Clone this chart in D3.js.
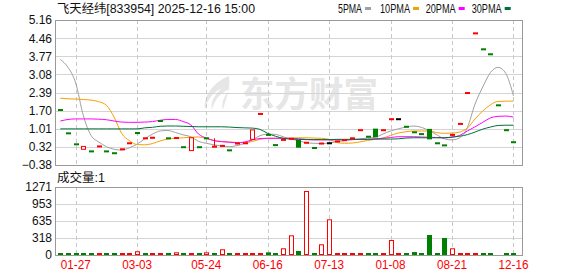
<!DOCTYPE html>
<html><head><meta charset="utf-8">
<script src="https://cdn.jsdelivr.net/npm/d3@7"></script>
<style>body{margin:0;background:#fff}svg{display:block}</style>
</head><body>
<svg id="c" width="578" height="276"></svg>
<script>
// ---------------- data ----------------
const stockTitle = "飞天经纬[833954] 2025-12-16 15:00";
const volTitle = "成交量:1";
const prevClose = 1.90;
const opens  = [1.73,0.84,0.42,0.22,0.15,0.32,0.15,0.08,0.21,0.44,0.88,0.63,0.65,1.31,0.65,0.64,0.31,0.17,0.31,0.65,
                0.31,0.34,0.19,0.43,0.44,0.60,1.56,0.78,0.39,0.57,0.61,0.58,0.46,0.28,0.43,0.45,0.51,0.56,0.63,0.94,
                0.71,1.01,0.94,1.36,1.37,1.09,0.88,0.81,1.00,0.46,0.38,0.76,1.18,2.36,4.64,4.05,3.86,1.91,0.96,0.50];
const closes = [1.72,0.83,0.41,0.33,0.14,0.33,0.14,0.07,0.22,0.45,0.80,0.64,0.66,1.30,0.64,0.65,0.30,0.66,0.30,0.64,
                0.32,0.35,0.18,0.44,0.45,0.96,1.57,0.77,0.38,0.58,0.62,0.28,0.47,0.27,0.44,0.45,0.52,0.57,0.64,0.95,
                0.70,0.68,0.95,1.37,1.37,1.08,0.87,0.80,0.60,0.45,0.37,0.77,1.19,2.37,4.65,4.04,3.85,1.90,0.95,0.49];
const highs  = [1.73,0.84,0.42,0.33,0.15,0.33,0.15,0.08,0.22,0.45,0.88,0.64,0.66,1.31,0.65,0.65,0.31,0.66,0.31,0.65,
                0.64,0.35,0.19,0.44,0.45,0.96,1.57,0.78,0.39,0.58,0.62,0.58,0.47,0.28,0.44,0.45,0.52,0.57,0.64,0.95,
                0.71,1.01,0.95,1.37,1.37,1.09,0.88,0.81,1.00,0.46,0.38,0.77,1.19,2.37,4.65,4.05,3.86,1.91,0.96,0.50];
const lows   = [1.72,0.83,0.41,0.22,0.14,0.32,0.14,0.07,0.21,0.44,0.80,0.63,0.65,1.30,0.64,0.64,0.30,0.17,0.30,0.64,
                0.31,0.34,0.18,0.43,0.44,0.60,1.56,0.77,0.38,0.57,0.61,0.28,0.46,0.27,0.43,0.45,0.51,0.56,0.63,0.94,
                0.70,0.68,0.94,1.36,1.37,1.08,0.87,0.80,0.60,0.45,0.37,0.76,1.18,2.36,4.64,4.04,3.85,1.90,0.95,0.49];
const volumes = [30,30,30,30,30,30,30,30,30,30,70,37,30,30,30,50,30,30,30,50,
                 30,107,30,30,30,30,30,50,30,125,368,75,1196,30,200,667,30,30,30,30,
                 30,30,30,280,30,30,55,30,374,30,318,125,30,30,30,37,30,0,30,30];
const ma5  = [3.65,3.35,2.75,1.50,0.75,0.50,0.32,0.22,0.19,0.28,0.42,0.62,0.80,0.92,0.94,0.86,0.77,0.70,0.52,0.45,
              0.39,0.35,0.32,0.36,0.45,0.58,0.74,0.80,0.79,0.70,0.61,0.55,0.47,0.45,0.44,0.46,0.51,0.55,0.59,0.62,
              0.65,0.68,0.80,0.92,1.00,1.07,1.11,1.06,0.94,0.78,0.62,0.58,0.66,1.05,1.95,2.60,3.15,3.35,3.12,2.26];
const ma10 = [2.17,2.15,2.14,2.12,2.10,2.04,1.90,1.45,0.82,0.55,0.40,0.39,0.44,0.54,0.61,0.64,0.66,0.68,0.69,0.64,
              0.56,0.52,0.50,0.48,0.47,0.52,0.60,0.64,0.64,0.64,0.65,0.66,0.66,0.65,0.64,0.60,0.48,0.45,0.46,0.50,
              0.56,0.60,0.65,0.75,0.84,0.89,0.92,0.92,0.92,0.86,0.83,0.84,0.88,1.03,1.38,1.68,1.92,2.05,2.06,2.06];
const ma20 = [1.30,1.36,1.38,1.38,1.38,1.37,1.35,1.30,1.26,1.25,1.25,1.26,1.28,1.33,1.36,1.36,1.28,1.15,0.80,0.65,
              0.55,0.51,0.49,0.47,0.50,0.58,0.63,0.64,0.64,0.64,0.64,0.62,0.60,0.58,0.58,0.58,0.58,0.58,0.59,0.60,
              0.60,0.62,0.64,0.67,0.70,0.70,0.70,0.69,0.68,0.67,0.66,0.68,0.75,0.92,1.08,1.25,1.42,1.48,1.49,1.45];
const ma30 = [1.00,1.00,1.00,1.00,1.00,1.00,1.00,1.00,1.00,1.00,1.00,1.04,1.06,1.10,1.11,1.11,1.10,1.09,1.08,1.08,
              1.08,1.08,1.07,1.05,1.04,1.03,0.98,0.83,0.72,0.64,0.61,0.60,0.59,0.59,0.59,0.59,0.60,0.60,0.60,0.60,
              0.60,0.61,0.61,0.61,0.62,0.65,0.66,0.66,0.66,0.66,0.66,0.69,0.72,0.78,0.88,0.99,1.07,1.13,1.14,1.14];
const priceTicks = [5.16,4.46,3.77,3.08,2.39,1.70,1.01,0.32,-0.38];
const volTicks = [1271,953,635,318,0];
const dateTickIdx = [2,10,19,27,35,43,51,59];
const dateTickLabels = ["01-27","03-03","05-24","06-16","07-13","01-08","08-21","12-16"];
const maNames = ["5PMA","10PMA","20PMA","30PMA"];
const maColors = ["#a0a0a0","#f5a000","#ff00ff","#00703a"];

// ---------------- layout ----------------
const svg = d3.select("#c");
const L = 55, R = 522, T1 = 20, B1 = 165, T2 = 187, B2 = 255;
const RED = "#ff0000", GREEN = "#008000", BLACK = "#000000";
const n = closes.length;
const x = d3.scaleBand().domain(d3.range(n)).range([56.5, 517.3]);
const cx = i => x(i) + x.bandwidth() / 2;
const y = d3.scaleLinear().domain([priceTicks[priceTicks.length-1], priceTicks[0]]).range([B1, T1]);
const yv = d3.scaleLinear().domain([0, volTicks[0]]).range([B2, T2]);
const txtLen = s => { let w = 0; for (const ch of s) w += ch.charCodeAt(0) > 255 ? 12 : 6; return w; };
const monoFont = "'Liberation Sans', Arial, sans-serif";
const cjkFont = "'Liberation Sans', 'Noto Sans CJK SC', sans-serif";

// watermark
const wm = svg.append("g").attr("fill", "#e6e6e6");
wm.append("path").attr("d",
  "M229,76 C214,82 203,95 205,110 C207,100 213,92 222,88 C214,95 210,103 212,110 C214,100 221,92 230,89 C224,96 221,103 223,110 C226,98 231,88 229,76 Z");
wm.append("text").attr("x", 240).attr("y", 107).attr("font-size", 35).attr("font-weight", "bold")
  .attr("font-family", "'Noto Sans CJK SC', sans-serif").attr("textLength", 138).attr("lengthAdjust", "spacingAndGlyphs").text("东方财富");

// grids
const grid = svg.append("g");
grid.selectAll(".hg").data(priceTicks.slice(1, -1)).join("line")
  .attr("x1", L).attr("x2", R).attr("y1", d => Math.round(y(d)) + 0.5).attr("y2", d => Math.round(y(d)) + 0.5)
  .attr("stroke", "#d4d4d4");
grid.selectAll(".hv").data(volTicks.slice(1, -1)).join("line")
  .attr("x1", L).attr("x2", R).attr("y1", d => Math.round(yv(d)) + 0.5).attr("y2", d => Math.round(yv(d)) + 0.5)
  .attr("stroke", "#d4d4d4");
[[T1, B1], [T2, B2]].forEach(([t, b]) => {
  grid.append("g").selectAll("line").data(dateTickIdx).join("line")
    .attr("x1", i => Math.round(cx(i)) + 0.5).attr("x2", i => Math.round(cx(i)) + 0.5)
    .attr("y1", t).attr("y2", b).attr("stroke", "#c8c8c8").attr("stroke-dasharray", "4,3");
});

// frames
svg.append("rect").attr("x", L + 0.5).attr("y", T1 + 0.5).attr("width", R - L).attr("height", B1 - T1)
  .attr("fill", "none").attr("stroke", "#999");
svg.append("rect").attr("x", L + 0.5).attr("y", T2 + 0.5).attr("width", R - L).attr("height", B2 - T2)
  .attr("fill", "none").attr("stroke", "#999");

// axis labels
const yAxis = d3.axisLeft(y).tickValues(priceTicks).tickSize(0).tickPadding(3).tickFormat(d3.format(".2f"));
const ga = svg.append("g").attr("transform", `translate(${L},0)`).call(yAxis);
const yvAxis = d3.axisLeft(yv).tickValues(volTicks).tickSize(0).tickPadding(3).tickFormat(d3.format("d"));
const gb = svg.append("g").attr("transform", `translate(${L},0)`).call(yvAxis);
[ga, gb].forEach(g => {
  g.select(".domain").remove();
  g.selectAll("text").attr("font-size", 12).attr("font-family", "'Liberation Sans', Arial, sans-serif").attr("fill", "#111");
});
const xAxis = d3.axisBottom(x).tickValues(dateTickIdx).tickSize(0).tickPadding(0)
  .tickFormat(i => dateTickLabels[dateTickIdx.indexOf(i)]);
const gx = svg.append("g").attr("transform", `translate(0,${B2 + 5})`).call(xAxis);
gx.select(".domain").remove();
gx.selectAll("text").attr("font-size", 12).attr("font-family", monoFont).attr("fill", RED)
  .attr("textLength", d => txtLen(dateTickLabels[dateTickIdx.indexOf(d)])).attr("lengthAdjust", "spacingAndGlyphs");

// title & legend
svg.append("text").attr("x", 57).attr("y", 13).attr("font-size", 12).attr("font-family", cjkFont)
  .attr("fill", "#111").attr("textLength", txtLen(stockTitle)).attr("lengthAdjust", "spacingAndGlyphs").text(stockTitle);
const legX = [338, 380, 425.7, 471.7];
maNames.forEach((nm, k) => {
  svg.append("text").attr("x", legX[k]).attr("y", 13).attr("font-size", 12).attr("font-family", monoFont)
    .attr("fill", "#111").attr("textLength", txtLen(nm)).attr("lengthAdjust", "spacingAndGlyphs").text(nm);
  svg.append("rect").attr("x", legX[k] + txtLen(nm) + 3).attr("y", 7).attr("width", 6).attr("height", 3).attr("fill", maColors[k]);
});
svg.append("text").attr("x", 57).attr("y", 182).attr("font-size", 12).attr("font-family", cjkFont)
  .attr("fill", "#111").attr("textLength", txtLen(volTitle)).attr("lengthAdjust", "spacingAndGlyphs").text(volTitle);

// MA lines
const mas = [ma5, ma10, ma20, ma30];
const line = d3.line().x((d, i) => cx(i)).y(d => y(d)).curve(d3.curveMonotoneX);
mas.forEach((arr, k) => {
  svg.append("path").datum(arr).attr("d", line).attr("fill", "none").attr("stroke", maColors[k]).attr("stroke-width", 1);
});

// candles
const candleColor = i => closes[i] > opens[i] ? RED : closes[i] < opens[i] ? GREEN : BLACK;
const cg = svg.append("g");
d3.range(n).forEach(i => {
  const col = candleColor(i);
  const xc = Math.round(cx(i));
  const yo = y(opens[i]), yc = y(closes[i]);
  const top = Math.min(yo, yc), h = Math.abs(yo - yc);
  if (y(lows[i]) - y(highs[i]) > h + 1) {
    cg.append("line").attr("x1", xc + 0.5).attr("x2", xc + 0.5).attr("y1", y(highs[i])).attr("y2", y(lows[i])).attr("stroke", col);
  }
  if (h < 2) {
    cg.append("rect").attr("x", xc - 2).attr("y", yc - 1).attr("width", 5).attr("height", 2).attr("fill", col);
  } else if (col === RED) {
    cg.append("rect").attr("x", xc - 1.5).attr("y", top).attr("width", 4).attr("height", h).attr("fill", "#fff").attr("stroke", col);
  } else {
    cg.append("rect").attr("x", xc - 2).attr("y", top).attr("width", 5).attr("height", h).attr("fill", col);
  }
});

// volume bars
const vg = svg.append("g");
d3.range(n).forEach(i => {
  if (volumes[i] <= 0) return;
  const pc = i === 0 ? prevClose : closes[i - 1];
  const col = closes[i] >= pc ? RED : GREEN;
  const xc = Math.round(cx(i));
  const top = yv(volumes[i]), h = B2 - top;
  if (h < 2.5) {
    vg.append("rect").attr("x", xc - 2).attr("y", B2 - 2).attr("width", 5).attr("height", 2).attr("fill", col);
  } else if (col === RED) {
    vg.append("rect").attr("x", xc - 1.5).attr("y", top + 0.5).attr("width", 4).attr("height", h - 1).attr("fill", "#fff").attr("stroke", col);
  } else {
    vg.append("rect").attr("x", xc - 2).attr("y", top).attr("width", 5).attr("height", h).attr("fill", col);
  }
});
</script>
</body></html>
